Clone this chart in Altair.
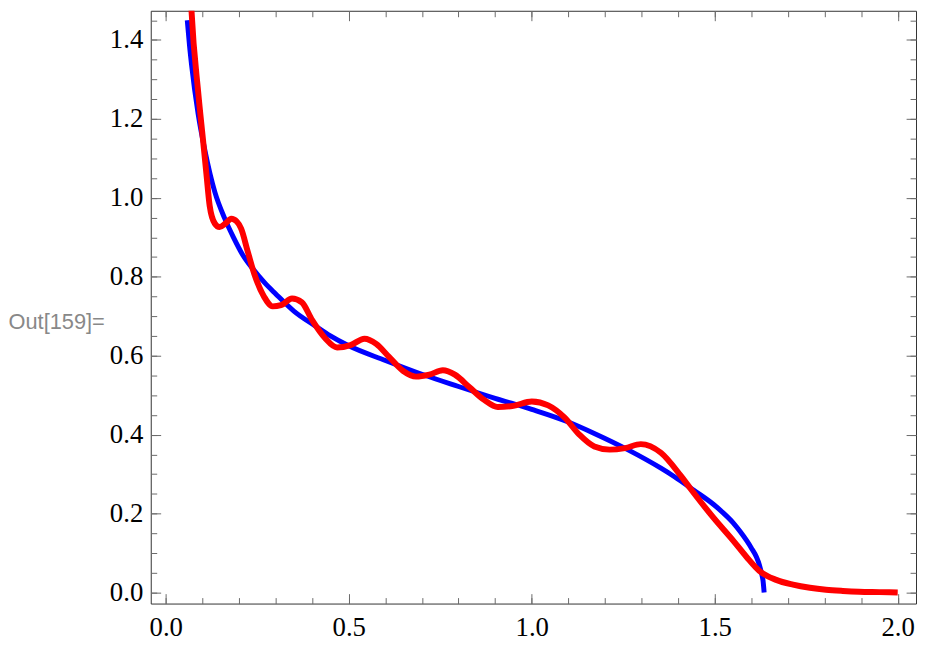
import altair as alt
import pandas as pd

# ---- data ----
blue_x = [0.0588, 0.065, 0.0704, 0.0886, 0.107, 0.134, 0.161, 0.185, 0.21, 0.238, 0.27, 0.30,
          0.35, 0.409, 0.45, 0.50, 0.60, 0.70, 0.80, 0.90, 1.00, 1.10, 1.171, 1.262, 1.353,
          1.389, 1.443, 1.497, 1.524, 1.551, 1.570, 1.587, 1.600, 1.614, 1.622, 1.628, 1.632,
          1.635]
blue_y = [1.45, 1.385, 1.338, 1.212, 1.12, 1.015, 0.948, 0.90, 0.856, 0.82, 0.785, 0.757,
          0.713, 0.675, 0.65, 0.625, 0.588, 0.553, 0.522, 0.492, 0.464, 0.432, 0.403, 0.362,
          0.315, 0.294, 0.259, 0.223, 0.201, 0.176, 0.154, 0.132, 0.113, 0.090, 0.070, 0.048,
          0.030, 0.0]

red_x = [0.066, 0.0704, 0.0886, 0.102, 0.111, 0.120, 0.134, 0.147, 0.163, 0.179, 0.194, 0.206,
         0.224, 0.242, 0.269, 0.292, 0.315, 0.345, 0.372, 0.40, 0.435, 0.468, 0.505, 0.543,
         0.575, 0.61, 0.648, 0.684, 0.72, 0.757, 0.79, 0.83, 0.87, 0.907, 0.95, 1.0, 1.045,
         1.09, 1.13, 1.171, 1.213, 1.255, 1.298, 1.353, 1.407, 1.434, 1.497, 1.551, 1.587,
         1.623, 1.668, 1.714, 1.76, 1.804, 1.85, 1.894, 1.95, 2.0]
red_y = [1.56, 1.474, 1.268, 1.145, 1.062, 0.98, 0.935, 0.926, 0.935, 0.947, 0.94, 0.922,
         0.864, 0.807, 0.749, 0.725, 0.728, 0.745, 0.735, 0.69, 0.645, 0.621, 0.627, 0.643,
         0.63, 0.597, 0.562, 0.547, 0.552, 0.563, 0.552, 0.52, 0.488, 0.470, 0.473, 0.484, 0.474,
         0.443, 0.400, 0.370, 0.362, 0.366, 0.376, 0.354, 0.296, 0.263, 0.189, 0.131, 0.090,
         0.054, 0.032, 0.020, 0.012, 0.007, 0.004, 0.002, 0.001, 0.0]

x_major = [0.0, 0.5, 1.0, 1.5, 2.0]
x_minor = [0.0, 0.1, 0.2, 0.3, 0.4, 0.5, 0.6, 0.7, 0.8, 0.9, 1.0, 1.1, 1.2, 1.3, 1.4, 1.5,
           1.6, 1.7, 1.8, 1.9, 2.0]
y_major = [0.0, 0.2, 0.4, 0.6, 0.8, 1.0, 1.2, 1.4]
y_minor = [0.0, 0.05, 0.1, 0.15, 0.2, 0.25, 0.3, 0.35, 0.4, 0.45, 0.5, 0.55, 0.6, 0.65, 0.7,
           0.75, 0.8, 0.85, 0.9, 0.95, 1.0, 1.05, 1.1, 1.15, 1.2, 1.25, 1.3, 1.35, 1.4, 1.45]
x_domain = [-0.041, 2.05]
y_domain = [-0.028, 1.474]
out_label = "Out[159]="

blue = pd.DataFrame({"x": blue_x, "y": blue_y})
red = pd.DataFrame({"x": red_x, "y": red_y})

xs = alt.Scale(domain=x_domain, nice=False, zero=False)
ys = alt.Scale(domain=y_domain, nice=False, zero=False)

TICK = "#6a6a6a"
LABEL_FONT = "Liberation Serif"
LABEL_SIZE = 27


def axis(orient, values, size, labels=False, **kw):
    return alt.Axis(orient=orient, values=values, tickSize=size, offset=-size,
                    domain=False, grid=False, labels=labels, ticks=True, title="",
                    tickColor=TICK, tickWidth=1, labelFont=LABEL_FONT,
                    labelFontSize=LABEL_SIZE, labelColor="black", labelOverlap=False,
                    labelFlush=False, labelBound=False, **kw)


blue_layer = alt.Chart(blue).mark_line(color="#0000ff", strokeWidth=5, interpolate="monotone",
                                       clip=True).encode(
    x=alt.X("x:Q", scale=xs, axis=axis("bottom", x_major, 10, labels=True, labelPadding=11)),
    y=alt.Y("y:Q", scale=ys, axis=alt.Axis(
        orient="left", values=y_major, tickSize=10, offset=-10, domain=False, grid=False,
        labels=True, ticks=True, tickColor=TICK, tickWidth=1, labelFont=LABEL_FONT,
        labelFontSize=LABEL_SIZE, labelColor="black", labelOverlap=False, labelFlush=False,
        labelBound=False, labelPadding=8,
        title=out_label, titleAngle=0, titleFont="Liberation Sans", titleFontSize=22,
        titleFontWeight="normal", titleColor="#888888", titleAlign="left",
        titleBaseline="middle", titleX=-154, titleY=314)),
    order=alt.Order("x:Q"),
)

minor_bl = alt.Chart(blue).mark_line(strokeOpacity=0).encode(
    x=alt.X("x:Q", scale=xs, axis=axis("bottom", x_minor, 6)),
    y=alt.Y("y:Q", scale=ys, axis=axis("left", y_minor, 6)),
)

major_tr = alt.Chart(blue).mark_line(strokeOpacity=0).encode(
    x=alt.X("x:Q", scale=xs, axis=axis("top", x_major, 10)),
    y=alt.Y("y:Q", scale=ys, axis=axis("right", y_major, 10)),
)

red_layer = alt.Chart(red).mark_line(color="#ff0000", strokeWidth=6, interpolate="monotone",
                                     clip=True).encode(
    x=alt.X("x:Q", scale=xs, axis=axis("top", x_minor, 6)),
    y=alt.Y("y:Q", scale=ys, axis=axis("right", y_minor, 6)),
    order=alt.Order("x:Q"),
)

chart = alt.layer(blue_layer, minor_bl, major_tr, red_layer).resolve_scale(
    x="shared", y="shared"
).resolve_axis(
    x="independent", y="independent"
).properties(
    width=772, height=598,
    autosize=alt.AutoSizeParams(type="none"),
    padding={"left": 144, "top": 0, "right": 2, "bottom": 38},
    background="white",
).configure_view(
    stroke="#333333", strokeWidth=1
)

chart.save("out.html", embed_options={"renderer": "svg", "actions": False})
